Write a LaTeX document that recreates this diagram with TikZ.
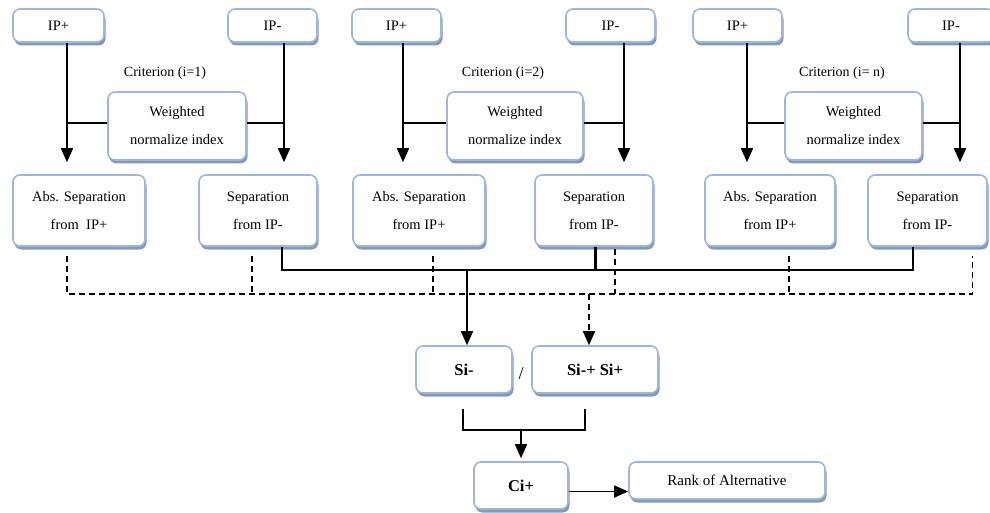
\documentclass[tikz,border=0pt]{standalone}
\usepackage{fontspec}
\setmainfont{Liberation Serif}
\usepackage{tikz}
\usetikzlibrary{shapes.geometric, arrows, shadows}
\usetikzlibrary{positioning}
\usetikzlibrary{arrows.meta}
\definecolor{boxline}{RGB}{157,183,220}
\definecolor{boxshade}{RGB}{135,152,182}
\tikzstyle{blk} = [rectangle, rounded corners=7pt, draw=boxline, line width=1.6pt, fill=white,
drop shadow={shadow xshift=1.5pt, shadow yshift=-3.5pt, fill=boxshade, opacity=1},
align=center, font=\fontsize{14.5}{28}\selectfont]
\tikzstyle{arrow} = [line width=1.5pt,->,>={Stealth[inset=0pt,length=14pt,width=12pt]}]
\tikzstyle{bus} = [line width=1.5pt]
\tikzstyle{dbus} = [line width=1.6pt, dash pattern=on 6pt off 4pt]

\begin{document}
\begin{tikzpicture}[x=1pt, y=-1pt]
  \useasboundingbox (0,0) rectangle (990,513);

  % criterion 1
  \node (ipp1) [blk, minimum width=91pt, minimum height=33pt] at (58.5,25.5) {IP+};
  \node (ipm1) [blk, minimum width=89pt, minimum height=33pt] at (272.5,25.5) {IP-};
  \node (crit1) [font=\fontsize{14}{16}\selectfont] at (165,73) {Criterion (i=1)};
  \node (wni1) [blk, minimum width=138pt, minimum height=68pt] at (177,126) {Weighted\\normalize index};
  \node (abs1) [blk, minimum width=132pt, minimum height=71pt] at (79,210.5) {Abs. Separation\\from \ IP+};
  \node (sep1) [blk, minimum width=118pt, minimum height=71pt] at (258,210.5) {Separation\\from IP-};

  % criterion 2
  \node (ipp2) [blk, minimum width=89pt, minimum height=33pt] at (396.5,25.5) {IP+};
  \node (ipm2) [blk, minimum width=89pt, minimum height=33pt] at (610.5,25.5) {IP-};
  \node (crit2) [font=\fontsize{14}{16}\selectfont] at (503,73) {Criterion (i=2)};
  \node (wni2) [blk, minimum width=136pt, minimum height=68pt] at (515,126) {Weighted\\normalize index};
  \node (abs2) [blk, minimum width=132pt, minimum height=71pt] at (419,210.5) {Abs. Separation\\from IP+};
  \node (sep2) [blk, minimum width=118pt, minimum height=71pt] at (594,210.5) {Separation\\from IP-};

  % criterion n
  \node (ipp3) [blk, minimum width=89pt, minimum height=33pt] at (737.5,25.5) {IP+};
  \node (ipm3) [blk, minimum width=86pt, minimum height=33pt] at (951,25.5) {IP-};
  \node (crit3) [font=\fontsize{14}{16}\selectfont] at (842,73) {Criterion (i= n)};
  \node (wni3) [blk, minimum width=137pt, minimum height=68pt] at (853.5,126) {Weighted\\normalize index};
  \node (abs3) [blk, minimum width=130pt, minimum height=71pt] at (770,210.5) {Abs. Separation\\from IP+};
  \node (sep3) [blk, minimum width=119pt, minimum height=71pt] at (927.5,210.5) {Separation\\from IP-};

  % result
  \node (si1) [blk, minimum width=96pt, minimum height=47pt, font=\fontsize{16.5}{18}\selectfont\bfseries] at (464,369.5) {Si-};
  \node (si2) [blk, minimum width=126pt, minimum height=47pt, font=\fontsize{16.5}{18}\selectfont\bfseries] at (595,369.5) {Si-+ Si+};
  \node (div) [font=\fontsize{18}{20}\selectfont] at (521,374) {/};
  \node (ci) [blk, minimum width=94pt, minimum height=47pt, font=\fontsize{16.5}{18}\selectfont\bfseries] at (521,485.5) {Ci+};
  \node (rank) [blk, minimum width=196pt, minimum height=37pt, font=\fontsize{15}{17}\selectfont] at (727,480.5) {Rank of Alternative};

  % IP arrows and index links
  \draw[arrow, shorten >=12pt] ([xshift=8.5pt]ipp1.south) -- ([xshift=8.5pt]ipp1.south |- abs1.north);
  \draw[arrow, shorten >=12pt] ([xshift=11.5pt]ipm1.south) -- ([xshift=11.5pt]ipm1.south |- sep1.north);
  \draw[bus] ([yshift=3pt]wni1.west) -- ([yshift=3pt, xshift=8.5pt]wni1.west -| ipp1.south);
  \draw[bus] ([yshift=3pt]wni1.east) -- ([yshift=3pt, xshift=11.5pt]wni1.east -| ipm1.south);

  \draw[arrow, shorten >=12pt] ([xshift=6.5pt]ipp2.south) -- ([xshift=6.5pt]ipp2.south |- abs2.north);
  \draw[arrow, shorten >=12pt] ([xshift=13.5pt]ipm2.south) -- ([xshift=13.5pt]ipm2.south |- sep2.north);
  \draw[bus] ([yshift=3pt]wni2.west) -- ([yshift=3pt, xshift=6.5pt]wni2.west -| ipp2.south);
  \draw[bus] ([yshift=3pt]wni2.east) -- ([yshift=3pt, xshift=13.5pt]wni2.east -| ipm2.south);

  \draw[arrow, shorten >=12pt] ([xshift=9.5pt]ipp3.south) -- ([xshift=9.5pt]ipp3.south |- abs3.north);
  \draw[arrow, shorten >=12pt] ([xshift=9pt]ipm3.south) -- ([xshift=9pt]ipm3.south |- sep3.north);
  \draw[bus] ([yshift=3pt]wni3.west) -- ([yshift=3pt, xshift=9.5pt]wni3.west -| ipp3.south);
  \draw[bus] ([yshift=3pt]wni3.east) -- ([yshift=3pt, xshift=9pt]wni3.east -| ipm3.south);

  % solid bus to Si-
  \coordinate (sb) at (467,270);
  \draw[bus] ([xshift=24pt]sep1.south) |- (sb) -| ([xshift=-14.5pt]sep3.south);
  \draw[line width=3pt] ([xshift=1pt]sep2.south) -- ([xshift=1pt]sep2.south |- sb);
  \draw[arrow] (sb) -- (sb |- si1.north);

  % dashed bus to Si-+Si+
  \coordinate (db) at (589,294);
  \draw[dbus] ([xshift=-12pt, yshift=-9pt]abs1.south) |- ([xshift=45pt]sep3.south |- db) -- ([xshift=45pt, yshift=-9pt]sep3.south);
  \draw[dbus] ([xshift=-6pt, yshift=-9pt]sep1.south) -- ([xshift=-6pt]sep1.south |- db);
  \draw[dbus] ([xshift=14pt, yshift=-9pt]abs2.south) -- ([xshift=14pt]abs2.south |- db);
  \draw[dbus] ([xshift=21pt, yshift=-2pt]sep2.south) -- ([xshift=21pt]sep2.south |- db);
  \draw[dbus] ([xshift=19pt, yshift=-9pt]abs3.south) -- ([xshift=19pt]abs3.south |- db);
  \draw[arrow, dash pattern=on 6pt off 4pt] (db) -- (db |- si2.north);

  % Ci+ and rank
  \coordinate (bl) at (463,409);
  \coordinate (br) at (585,409);
  \coordinate (bm) at (521,430);
  \draw[bus] (bl) -- (bl |- bm) -- (br |- bm) -- (br);
  \draw[arrow, shorten >=3pt] (bm) -- (ci.north);
  \draw[arrow] ([yshift=-6pt]ci.east) -- ([yshift=-6pt]ci.east -| rank.west);

\end{tikzpicture}
\end{document}
